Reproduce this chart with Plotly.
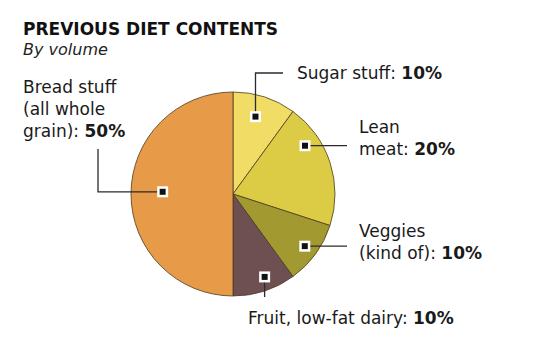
import math
import plotly.graph_objects as go

# --- data ---------------------------------------------------------------
categories = ["Sugar stuff", "Lean meat", "Veggies", "Fruit, low-fat dairy", "Bread stuff"]
shares = [10, 20, 10, 10, 50]
label_texts = [
    "Sugar stuff: <b>10%</b>",
    "Lean<br>meat: <b>20%</b>",
    "Veggies<br>(kind of): <b>10%</b>",
    "Fruit, low-fat dairy: <b>10%</b>",
    "Bread stuff<br>(all whole<br>grain): <b>50%</b>",
]
colors = ["#f1dc66", "#dccb45", "#a29a30", "#6e5052", "#e79a47"]

# --- layout geometry (pixels, origin top-left) ---------------------------
W, H = 540, 345
CX, CY, R = 233, 194, 102
# where inside each slice the marker sits: (fraction along slice angle, fraction of radius)
marker_place = [(0.45, 0.79), (0.28, 0.85), (0.5, 0.87), (0.42, 0.87), (0.51, 0.69)]
# leader-line elbows and label anchors
label_pos = {
    "Sugar stuff": dict(path=[(None, 73), (283, 73)], text=(295, 73)),
    "Lean meat": dict(path=[(347, None)], text=(357, 138)),
    "Veggies": dict(path=[(347, None)], text=(357, 242)),
    "Fruit, low-fat dairy": dict(path=[(None, 297)], text=(246, 318)),
    "Bread stuff": dict(path=[(98, None), (98, 149)], text=(21, 109)),
}
LABEL_FONT = "DejaVu Sans"
LABEL_SIZE = 17

fig = go.Figure()
fig.add_trace(go.Pie(
    labels=categories,
    values=shares,
    sort=False,
    direction="clockwise",
    rotation=0,
    textinfo="none",
    hoverinfo="label+percent",
    marker=dict(colors=colors, line=dict(color="#4a3c22", width=0.8)),
    domain=dict(x=[(CX - R) / W, (CX + R) / W], y=[(H - CY - R) / H, (H - CY + R) / H]),
    showlegend=False,
))

# invisible pixel-space axes for the leader lines and labels
fig.add_trace(go.Scatter(x=[0, W], y=[0, H], mode="markers", marker=dict(opacity=0),
                         hoverinfo="skip", showlegend=False))

total = sum(shares)
start = 0.0
shapes, annotations = [], []
for name, val, txt, (af, rf) in zip(categories, shares, label_texts, marker_place):
    a0 = start / total * 360
    a1 = (start + val) / total * 360
    start += val
    ang = math.radians(a0 + af * (a1 - a0))
    mx = CX + rf * R * math.sin(ang)
    my = CY - rf * R * math.cos(ang)

    # leader line from marker through elbows
    pts = [(mx, my)]
    for px, py in label_pos[name]["path"]:
        pts.append((mx if px is None else px, my if py is None else py))
    path = "M " + " L ".join(f"{x:.1f},{y:.1f}" for x, y in pts)
    shapes.append(dict(type="path", path=path, xref="x", yref="y",
                       line=dict(color="#2b2b2b", width=1.3)))

    tx, ty = label_pos[name]["text"]
    annotations.append(dict(x=tx, y=ty, xref="x", yref="y", text=txt, showarrow=False,
                            xanchor="left", yanchor="middle", align="left",
                            font=dict(family=LABEL_FONT, size=LABEL_SIZE, color="#1a1a1a")))
    # marker: white box with black centre
    shapes.append(dict(type="rect", x0=mx - 5.5, x1=mx + 5.5, y0=my - 5.5, y1=my + 5.5,
                       xref="x", yref="y", fillcolor="white", line=dict(width=0),
                       layer="above"))
    shapes.append(dict(type="rect", x0=mx - 3, x1=mx + 3, y0=my - 3, y1=my + 3,
                       xref="x", yref="y", fillcolor="#111111", line=dict(width=0),
                       layer="above"))

annotations.append(dict(x=21, y=29, xref="x", yref="y", text="<b>PREVIOUS DIET CONTENTS</b>",
                        showarrow=False, xanchor="left", yanchor="middle",
                        font=dict(family="DejaVu Sans", size=17, color="#111111")))
annotations.append(dict(x=21, y=49.5, xref="x", yref="y", text="<i>By volume</i>",
                        showarrow=False, xanchor="left", yanchor="middle",
                        font=dict(family=LABEL_FONT, size=16, color="#222222")))

fig.update_layout(
    width=W, height=H,
    margin=dict(l=0, r=0, t=0, b=0),
    paper_bgcolor="white", plot_bgcolor="rgba(0,0,0,0)",
    xaxis=dict(range=[0, W], visible=False, domain=[0, 1], fixedrange=True),
    yaxis=dict(range=[H, 0], visible=False, domain=[0, 1], fixedrange=True),
    shapes=shapes,
    annotations=annotations,
)

fig.write_html("out.html")
